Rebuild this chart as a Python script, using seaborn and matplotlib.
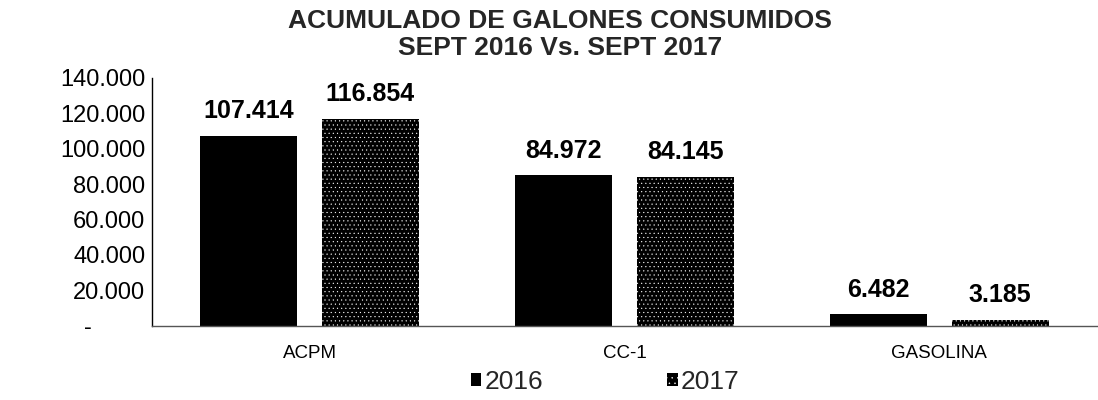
import matplotlib
matplotlib.use("Agg")
import matplotlib.pyplot as plt
import seaborn as sns
import pandas as pd
from matplotlib.patches import Patch
from matplotlib.ticker import FuncFormatter

categories = ["ACPM", "CC-1", "GASOLINA"]
years = ["2016", "2017"]
values_2016 = [107414, 84972, 6482]
values_2017 = [116854, 84145, 3185]
title_lines = ["ACUMULADO DE GALONES CONSUMIDOS", "SEPT 2016 Vs. SEPT 2017"]
yticks = [0, 20000, 40000, 60000, 80000, 100000, 120000, 140000]

df = pd.DataFrame({
    "cat": categories * 2,
    "year": [years[0]] * 3 + [years[1]] * 3,
    "val": values_2016 + values_2017,
})

sns.set_theme(style="white")
plt.rcParams["font.family"] = ["Liberation Sans", "DejaVu Sans"]
plt.rcParams["hatch.linewidth"] = 0.3

fig, ax = plt.subplots(figsize=(10.98, 4.0), dpi=100)
fig.subplots_adjust(left=0.1385, right=0.999, bottom=0.186, top=0.805)

sns.barplot(data=df, x="cat", y="val", hue="year", palette=["black", "black"],
            width=0.77, gap=0.2, ax=ax, legend=False, saturation=1)

for bar in ax.containers[0]:
    bar.set_edgecolor("black")
    bar.set_linewidth(0)
for bar in ax.containers[1]:
    bar.set_facecolor("black")
    bar.set_edgecolor("white")
    bar.set_linewidth(0)
    bar.set_hatch("....")

for cont, vals in zip(ax.containers, [values_2016, values_2017]):
    ax.bar_label(cont, labels=[f"{v:,}".replace(",", ".") for v in vals],
                 padding=9, fontsize=18, fontweight="bold", color="black")

ax.set_ylim(0, 140000)
ax.set_xlim(-0.5, 2.5)
ax.set_yticks(yticks)

def fmt(x, pos):
    if x == 0:
        return "-" + " " * 8
    return f"{int(x):,}".replace(",", ".")

ax.yaxis.set_major_formatter(FuncFormatter(fmt))
ax.tick_params(axis="y", length=0, pad=5, labelsize=17, labelcolor="black")
ax.tick_params(axis="x", length=0, pad=14, labelsize=13.5, labelcolor="black")
ax.set_xlabel("")
ax.set_ylabel("")

for s in ["top", "right"]:
    ax.spines[s].set_visible(False)
ax.spines["left"].set_color("black")
ax.spines["left"].set_linewidth(1.0)
ax.spines["bottom"].set_color("#555555")
ax.spines["bottom"].set_linewidth(1.0)

fig.suptitle("\n".join(title_lines), x=0.51, y=0.978, fontsize=19,
             fontweight="bold", linespacing=1.15, va="top")

handles = [Patch(facecolor="black", edgecolor="black", linewidth=0),
           Patch(facecolor="black", edgecolor="white", linewidth=0, hatch="...")]
fig.legend(handles, years, loc="center", bbox_to_anchor=(0.551, 0.045), ncol=2,
           frameon=False, fontsize=19, handlelength=0.4, handleheight=0.4,
           handletextpad=0.12, columnspacing=4.7)

fig.savefig("out.png", dpi=100)
